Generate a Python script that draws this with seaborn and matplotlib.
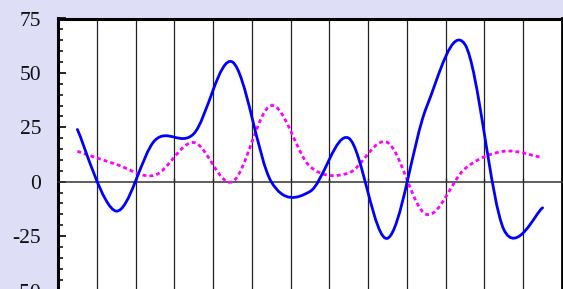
import numpy as np
import pandas as pd
from matplotlib import pyplot as plt
from matplotlib.path import Path
from matplotlib.patches import PathPatch
from matplotlib.ticker import MultipleLocator
import seaborn as sns

# values, one per category
categories = np.arange(13)
series_a = [24, -13.5, 19, 22, 55, 0, -4.5, 20, -26, 34, 63, -22, -12]
series_b = [14, 8, 3, 18, 0, 35, 7, 4, 18, -15, 6, 14, 11]
ytick_values = [-50, -25, 0, 25, 50, 75]

df = pd.DataFrame({'x': categories + 0.5, 'a': series_a, 'b': series_b})

sns.set_theme(style='white')
plt.rcParams['font.family'] = ['Liberation Serif', 'DejaVu Serif']


def smooth_path(xs, ys):
    # Catmull-Rom style bezier, like a spreadsheet "smoothed line"
    pts = np.column_stack([xs, ys]).astype(float)
    n = len(pts)
    verts = [pts[0]]
    codes = [Path.MOVETO]
    for i in range(n - 1):
        p0 = pts[max(i - 1, 0)]
        p1 = pts[i]
        p2 = pts[i + 1]
        p3 = pts[min(i + 2, n - 1)]
        c1 = p1 + (p2 - p0) / 6.0
        c2 = p2 - (p3 - p1) / 6.0
        verts += [c1, c2, p2]
        codes += [Path.CURVE4] * 3
    return Path(verts, codes)


fig = plt.figure(figsize=(5.63, 2.89), dpi=100)
fig.patch.set_facecolor('#dedef7')
ax = fig.add_axes([58 / 563, (289 - 290.5) / 289, 504 / 563, 272 / 289])
ax.set_facecolor('white')

ax.set_xlim(0, 13)
ax.set_ylim(-50, 75)

for x in range(1, 13):
    ax.axvline(x, color='#222222', lw=0.9, zorder=1)

ax.add_patch(PathPatch(smooth_path(df['x'], df['b']), fill=False,
                       edgecolor='#ff00ff', lw=2.0, linestyle=(0, (1.4, 1.1)),
                       capstyle='butt', zorder=3))
ax.add_patch(PathPatch(smooth_path(df['x'], df['a']), fill=False,
                       edgecolor='#0000ff', lw=2.0, capstyle='round', zorder=4))

ax.spines['left'].set_linewidth(2.2)
ax.spines['top'].set_linewidth(2.2)
ax.spines['right'].set_linewidth(2.0)
for s in ('left', 'top', 'right'):
    ax.spines[s].set_color('black')
ax.spines['bottom'].set_position(('data', 0))
ax.spines['bottom'].set_color('#333333')
ax.spines['bottom'].set_linewidth(1.1)

ax.set_xticks(range(1, 13))
ax.set_xticklabels([])
ax.tick_params(axis='x', direction='in', length=3, width=1, color='#333333',
               bottom=True, top=False)

ax.set_yticks(ytick_values)
ax.set_yticklabels([str(v) for v in ytick_values])
ax.yaxis.set_minor_locator(MultipleLocator(5))
ax.tick_params(axis='y', which='major', direction='in', length=5.5, width=1.2,
               color='black', left=True, pad=12, labelsize=15.5, labelcolor='#111111')
ax.tick_params(axis='y', which='minor', direction='in', length=3.8, width=1.1,
               color='black', left=True)

fig.savefig('out.png', dpi=100, facecolor=fig.get_facecolor())
plt.close('all')
